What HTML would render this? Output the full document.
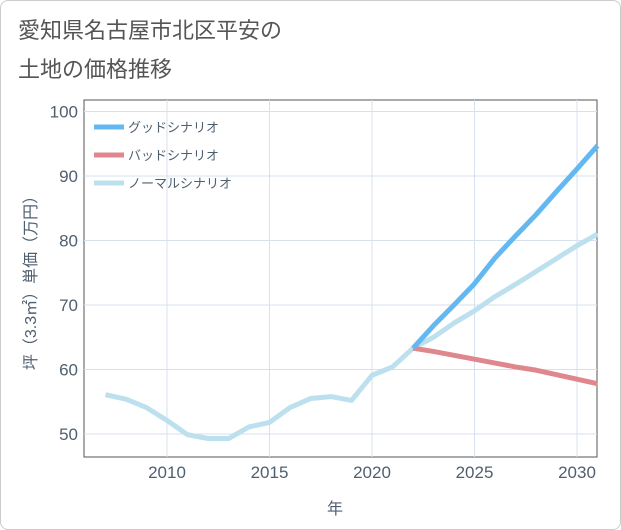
<!DOCTYPE html>
<html><head><meta charset="utf-8"><style>
body{margin:0;background:#fff;font-family:"Liberation Sans","Noto Sans CJK JP",sans-serif;}
#wrap{position:relative;width:619px;height:528px;border:1px solid #ccc;border-radius:8px;background:#fff;overflow:hidden}
</style></head><body>
<div id="wrap">
<svg id="chart" width="621" height="530" style="position:absolute;left:-1px;top:-1px">
<text x="18" y="38" font-size="22" fill="#555">愛知県名古屋市北区平安の</text>
<text x="18" y="77" font-size="22" fill="#555">土地の価格推移</text>
<rect x="84" y="100" width="513" height="357" fill="none" stroke="#555" stroke-width="1"/>
<g id="grid"></g><g id="axes"></g><g id="lines"></g><g id="legend"></g>
<text x="335" y="514" font-size="16" fill="#4f5f70" text-anchor="middle">年</text>
<text transform="translate(36,279) rotate(-90)" font-size="16" fill="#4f5f70" text-anchor="middle">坪（3.3㎡）単価（万円）</text>
</svg></div>
<script>
const years=[2007,2008,2009,2010,2011,2012,2013,2014,2015,2016,2017,2018,2019,2020,2021,2022];
const normalPast=[56.1,55.4,54.1,52.1,49.9,49.3,49.3,51.1,51.8,54.1,55.5,55.8,55.2,59.1,60.4,63.3];
const futureYears=[2022,2023,2024,2025,2026,2027,2028,2029,2030,2031];
const goodVals=[63.3,66.8,70.0,73.3,77.3,80.7,84.0,87.6,91.1,94.7];
const badVals=[63.3,62.8,62.2,61.6,61.0,60.4,59.9,59.2,58.5,57.8];
const normalVals=[63.3,65.0,67.2,69.1,71.3,73.2,75.2,77.2,79.2,81.0];
const xTicks=[2010,2015,2020,2025,2030];
const yTicks=[50,60,70,80,90,100];
const legendLabels=["グッドシナリオ","バッドシナリオ","ノーマルシナリオ"];
const NS="http://www.w3.org/2000/svg";
const xs=y=>167+(y-2010)*20.5;
const ys=v=>434-(v-50)*6.45;
const grid=document.getElementById('grid'),axes=document.getElementById('axes'),lines=document.getElementById('lines'),legend=document.getElementById('legend');
function mk(tag,attrs,parent){const e=document.createElementNS(NS,tag);for(const k in attrs)e.setAttribute(k,attrs[k]);parent.appendChild(e);return e;}
xTicks.forEach(t=>{
 const l=mk('line',{x1:xs(t),x2:xs(t),y1:100,y2:457,stroke:'#d5e1ec'},grid);
 
 
 const tx=mk('text',{x:xs(t),y:478,'font-size':17,fill:'#4f5f70','text-anchor':'middle'},axes);tx.textContent=t;
 
 
});
yTicks.forEach(t=>{
 const l=mk('line',{x1:84,x2:597,y1:ys(t),y2:ys(t),stroke:'#d5e1ec'},grid);
 
 
 const tx=mk('text',{x:78,y:ys(t)+6,'font-size':17,fill:'#4f5f70','text-anchor':'end'},axes);tx.textContent=t;
 
 
});
function pts(xv,yv){return xv.map((x,i)=>xs(x)+','+ys(yv[i])).join(' ');}
const c1=mk('polyline',{points:pts(years,normalPast),fill:'none',stroke:'#bde0ef','stroke-width':5,'stroke-linejoin':'round'},lines);


const c2=mk('polyline',{points:pts(futureYears,normalVals),fill:'none',stroke:'#bde0ef','stroke-width':5,'stroke-linejoin':'round'},lines);


const c3=mk('polyline',{points:pts(futureYears,badVals),fill:'none',stroke:'#e0878e','stroke-width':5,'stroke-linejoin':'round'},lines);


const c4=mk('polyline',{points:pts(futureYears,goodVals),fill:'none',stroke:'#64b8f1','stroke-width':5,'stroke-linejoin':'round'},lines);


const lc=['#64b8f1','#e0878e','#bde0ef'];
legendLabels.forEach((lab,i)=>{
 const y=127+i*28;
 const l=mk('line',{x1:94,x2:124,y1:y,y2:y,stroke:lc[i],'stroke-width':5},legend);
 
 
 const t=mk('text',{x:128,y:y+5,'font-size':13,fill:'#4f5f70'},legend);t.textContent=lab;
 
 
});
</script></body></html>
